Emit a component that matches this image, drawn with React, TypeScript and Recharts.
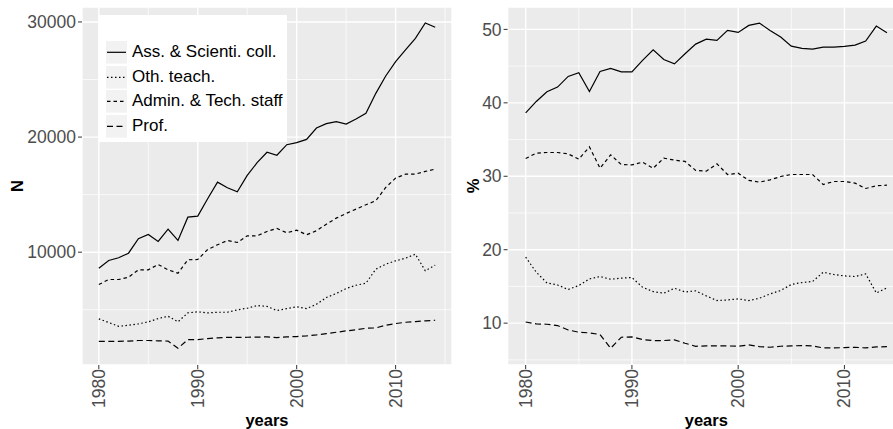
import React from "react";
import { LineChart, Line, XAxis, YAxis, CartesianGrid, ReferenceLine, Label } from "recharts";

const YEARS = [
  1980, 1981, 1982, 1983, 1984, 1985, 1986, 1987, 1988, 1989, 1990, 1991,
  1992, 1993, 1994, 1995, 1996, 1997, 1998, 1999, 2000, 2001, 2002, 2003,
  2004, 2005, 2006, 2007, 2008, 2009, 2010, 2011, 2012, 2013, 2014,
];

// headcounts
const ASS_N = [
  8609, 9278, 9513, 9913, 11165, 11540, 10930, 12000, 11017, 13043, 13130, 14643,
  16087, 15600, 15252, 16670, 17774, 18680, 18420, 19339, 19513, 19800, 20783, 21165,
  21340, 21130, 21565, 22060, 23800, 25305, 26557, 27566, 28583, 29913, 29540,
];
const OTH_N = [
  4208, 3887, 3565, 3652, 3774, 3948, 4235, 4435, 3948, 4730, 4817, 4730,
  4783, 4783, 4991, 5130, 5365, 5290, 4930, 5104, 5252, 5104, 5478, 6061,
  6409, 6843, 7130, 7304, 8522, 8957, 9252, 9478, 9826, 8383, 8870,
];
const ADMIN_N = [
  7191, 7626, 7626, 7826, 8470, 8470, 8930, 8470, 8174, 9339, 9365, 10235,
  10643, 11017, 10843, 11426, 11426, 11800, 12061, 11687, 11913, 11513, 11861, 12435,
  12957, 13365, 13739, 14122, 14470, 15626, 16435, 16783, 16783, 17017, 17217,
];
const PROF_N = [
  2261, 2261, 2261, 2280, 2330, 2330, 2300, 2280, 1652, 2409, 2409, 2496,
  2560, 2600, 2600, 2609, 2620, 2643, 2583, 2643, 2670, 2730, 2817, 2930,
  3043, 3165, 3252, 3391, 3420, 3652, 3800, 3913, 3974, 4035, 4087,
];

// shares (%)
const ASS_P = [
  38.64, 40.19, 41.5, 42.14, 43.6, 44.1, 41.55, 44.28, 44.69, 44.22, 44.22, 45.78,
  47.22, 45.91, 45.31, 46.68, 48.0, 48.68, 48.5, 49.86, 49.59, 50.54, 50.86, 49.86,
  48.95, 47.72, 47.41, 47.32, 47.59, 47.59, 47.68, 47.86, 48.41, 50.45, 49.54,
];
const OTH_P = [
  18.98, 16.93, 15.48, 15.2, 14.58, 15.12, 16.02, 16.35, 15.98, 16.12, 16.21, 14.89,
  14.3, 14.07, 14.75, 14.25, 14.39, 13.71, 13.08, 13.16, 13.3, 13.08, 13.39, 13.98,
  14.44, 15.26, 15.53, 15.67, 16.93, 16.62, 16.43, 16.35, 16.7, 14.11, 14.8,
];
const ADMIN_P = [
  32.42, 33.15, 33.24, 33.24, 33.05, 32.33, 34.0, 31.1, 32.92, 31.6, 31.55, 31.92,
  31.1, 32.47, 32.2, 32.02, 30.8, 30.7, 31.69, 30.24, 30.42, 29.43, 29.2, 29.51,
  29.97, 30.24, 30.24, 30.24, 28.88, 29.29, 29.29, 29.06, 28.34, 28.7, 28.79,
];
const PROF_P = [
  10.16, 9.89, 9.85, 9.67, 9.07, 8.76, 8.67, 8.45, 6.58, 8.08, 8.12, 7.77,
  7.63, 7.63, 7.72, 7.26, 6.85, 6.9, 6.9, 6.9, 6.85, 7.03, 6.8, 6.72,
  6.85, 6.9, 6.94, 6.9, 6.62, 6.62, 6.67, 6.72, 6.62, 6.76, 6.8,
];

const X_TICKS = [1980, 1990, 2000, 2010];
const X_MINOR = [1985, 1995, 2005, 2015];
const N_TICKS = [10000, 20000, 30000];
const N_MINOR = [5000, 15000, 25000];
const P_TICKS = [10, 20, 30, 40, 50];
const P_MINOR = [5, 15, 25, 35, 45];

const SERIES = [
  { key: "ass", name: "Ass. & Scienti. coll.", dash: undefined },
  { key: "oth", name: "Oth. teach.", dash: "1.5 2.5" },
  { key: "admin", name: "Admin. & Tech. staff", dash: "3.5 3" },
  { key: "prof", name: "Prof.", dash: "6 3.5" },
];

const countRows = YEARS.map((y, i) => ({
  year: y, ass: ASS_N[i], oth: OTH_N[i], admin: ADMIN_N[i], prof: PROF_N[i],
}));
const shareRows = YEARS.map((y, i) => ({
  year: y, ass: ASS_P[i], oth: OTH_P[i], admin: ADMIN_P[i], prof: PROF_P[i],
}));

const TICK_FS = 17.5;
const LEG_FS = 17;
const TITLE_FS = 16.5;
const TICK_COL = "#4D4D4D";
const FONT = "'Liberation Sans', Arial, Helvetica, sans-serif";

const XTick = (props: any) => {
  const { x, y, payload } = props;
  return (
    <g transform={`translate(${x},${y})`}>
      <text transform="rotate(-90)" textAnchor="end" dominantBaseline="central"
        fill={TICK_COL} fontSize={TICK_FS} fontFamily={FONT}>
        {payload.value}
      </text>
    </g>
  );
};

const yTitle = (txt: string, cx: number) => (props: any) => {
  const vb = props.viewBox;
  const cy = vb.y + vb.height / 2;
  return (
    <text x={cx} y={cy} transform={`rotate(-90, ${cx}, ${cy})`} textAnchor="middle"
      dominantBaseline="central" fontWeight="bold" fontSize={TITLE_FS} fontFamily={FONT} fill="#000">
      {txt}
    </text>
  );
};

const xTitle = (props: any) => {
  const vb = props.viewBox;
  return (
    <text x={vb.x + vb.width / 2} y={420} textAnchor="middle" dominantBaseline="central"
      fontWeight="bold" fontSize={TITLE_FS} fontFamily={FONT} fill="#000">
      years
    </text>
  );
};

function Panel({ data, width, yWidth, domain, ticks, minor, title, titleX }: any) {
  return (
    <LineChart width={width} height={429} data={data} margin={{ top: 7, right: 8, left: 0, bottom: 0 }}>
      <CartesianGrid fill="#EBEBEB" stroke="#FFFFFF" strokeWidth={1.4} />
      {minor.map((v: number) => (
        <ReferenceLine key={"h" + v} y={v} stroke="#FFFFFF" strokeWidth={0.7} />
      ))}
      {X_MINOR.map((v) => (
        <ReferenceLine key={"v" + v} x={v} stroke="#FFFFFF" strokeWidth={0.7} />
      ))}
      <XAxis dataKey="year" type="number" domain={[1978.3, 2015.7]} ticks={X_TICKS}
        allowDataOverflow height={64} axisLine={false} tickSize={4} tickMargin={0}
        tickLine={{ stroke: "#333333" }} tick={<XTick />}>
        <Label content={xTitle} />
      </XAxis>
      <YAxis type="number" domain={domain} ticks={ticks} allowDataOverflow width={yWidth}
        axisLine={false} tickSize={4} tickMargin={2} tickLine={{ stroke: "#333333" }}
        tick={{ fill: TICK_COL, fontSize: TICK_FS, fontFamily: FONT }}>
        <Label content={yTitle(title, titleX)} />
      </YAxis>
      {SERIES.map((s) => (
        <Line key={s.key} dataKey={s.key} type="linear" stroke="#000" strokeWidth={1.2}
          strokeDasharray={s.dash} dot={false} isAnimationActive={false} />
      ))}
    </LineChart>
  );
}

function LegendBox() {
  return (
    <div style={{ position: "absolute", left: 99, top: 15, width: 188, height: 127, background: "#fff" }}>
      {SERIES.map((s, i) => (
        <div key={s.key} style={{ position: "absolute", left: 6, top: 25 + i * 24.6, height: 24.6, display: "flex", alignItems: "center" }}>
          <svg width={23} height={24.6} style={{ display: "block" }}>
            <rect x={0.5} y={0.5} width={22} height={23.6} fill="#F2F2F2" stroke="#FFFFFF" strokeWidth={1} />
            <line x1={2} x2={21} y1={12.3} y2={12.3} stroke="#000" strokeWidth={1.2} strokeDasharray={s.dash} />
          </svg>
          <span style={{ marginLeft: 4, fontSize: LEG_FS, color: "#000", whiteSpace: "nowrap", lineHeight: "24.6px" }}>{s.name}</span>
        </div>
      ))}
    </div>
  );
}

export default function App() {
  return (
    <div style={{ position: "absolute", left: 0, top: 0, width: 893, height: 429, overflow: "hidden", background: "#fff", fontFamily: FONT }}>
      <div style={{ position: "absolute", left: 0, top: 0 }}>
        <Panel data={countRows} width={460} yWidth={82} domain={[200, 31300]} ticks={N_TICKS} minor={N_MINOR} title="N" titleX={17} />
      </div>
      <div style={{ position: "absolute", left: 445, top: 0 }}>
        <Panel data={shareRows} width={468} yWidth={62.6} domain={[4.3, 53.05]} ticks={P_TICKS} minor={P_MINOR} title="%" titleX={28} />
      </div>
      <LegendBox />
    </div>
  );
}
